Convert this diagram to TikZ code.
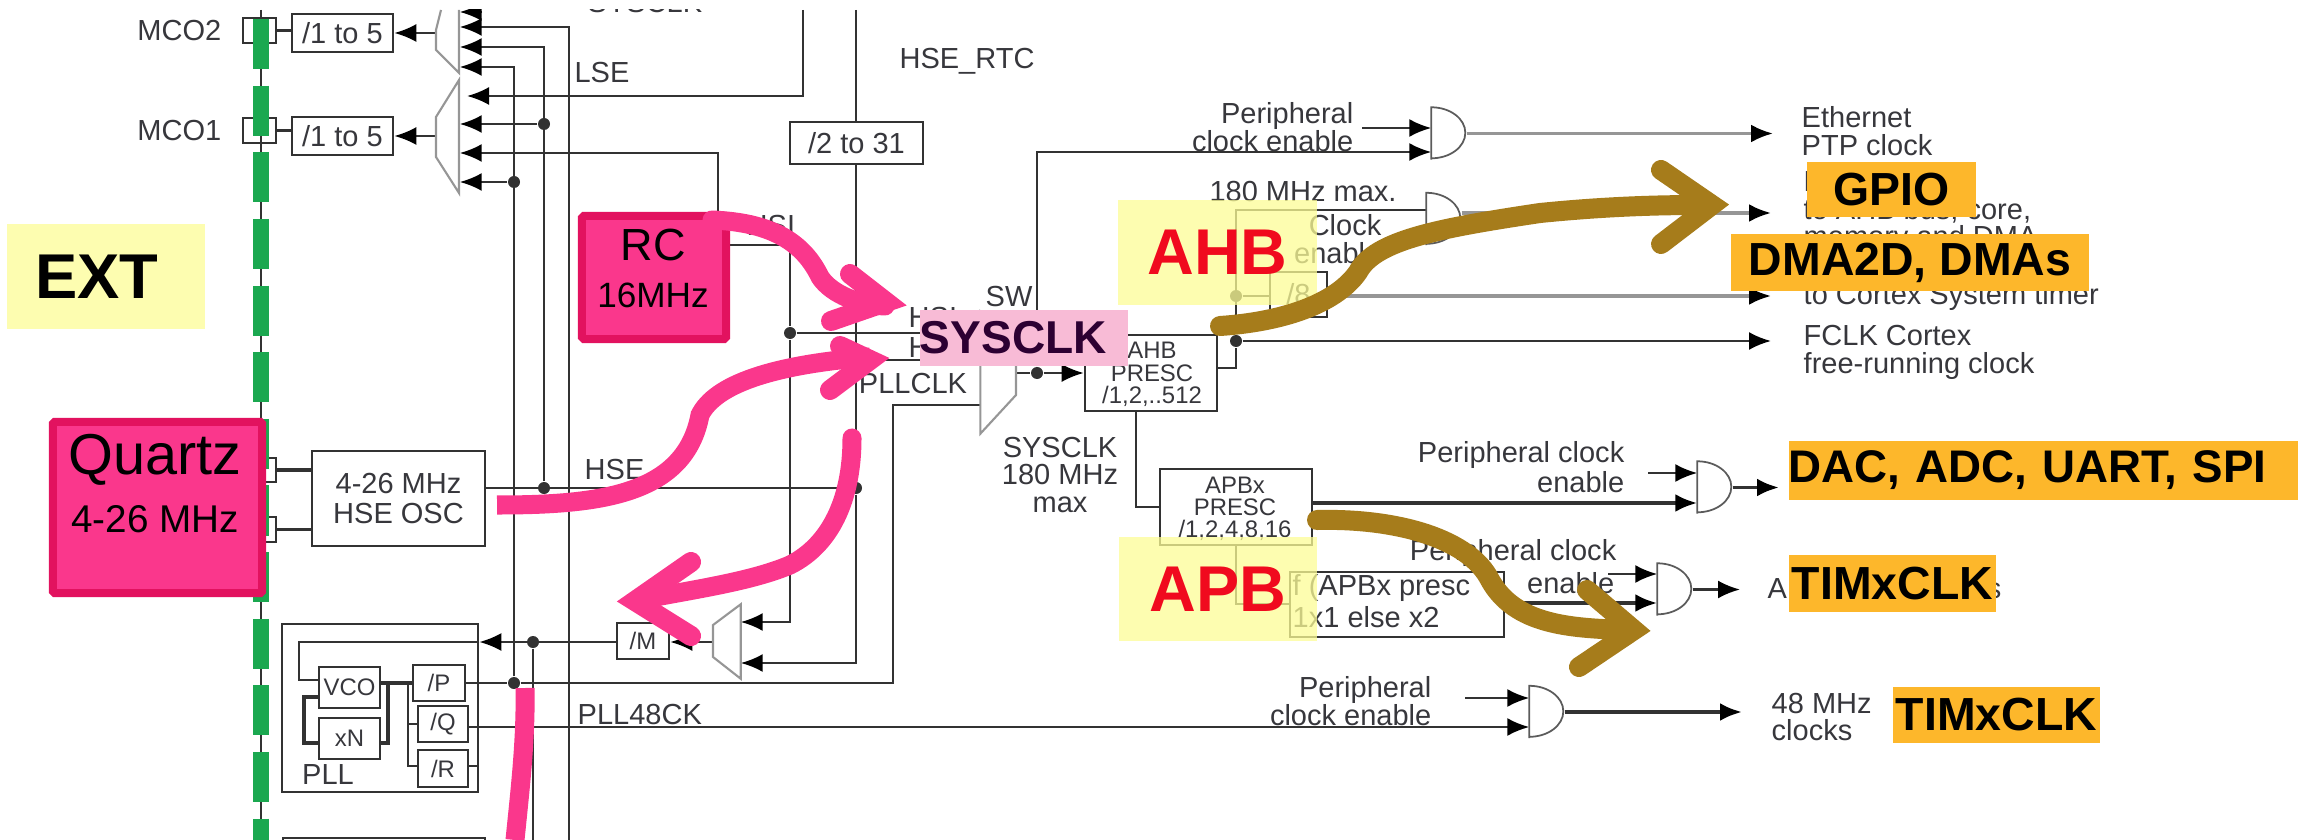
\documentclass[tikz,border=0pt]{standalone}
\usepackage{fontspec}
\setmainfont{Liberation Sans}
\usetikzlibrary{arrows.meta}
\definecolor{WireDark}{RGB}{50,50,50}
\definecolor{WirePale}{RGB}{150,150,150}
\definecolor{TextDark}{RGB}{55,55,60}
\definecolor{BusGreen}{RGB}{27,168,80}
\definecolor{BandYellow}{RGB}{253,253,150}
\definecolor{TagOrange}{RGB}{253,183,43}
\definecolor{SysPink}{RGB}{248,187,214}
\definecolor{SysInk}{RGB}{45,0,50}
\definecolor{SrcPink}{RGB}{250,55,140}
\definecolor{SrcEdge}{RGB}{226,18,95}
\definecolor{PenBrown}{RGB}{166,124,27}
\definecolor{BandRed}{RGB}{240,10,30}
\tikzset{
  sized/.style 2 args={minimum width=#1cm,minimum height=#2cm,inner sep=0pt},
  wire/.style={draw=WireDark,line width=0.7pt},
  wirethick/.style={draw=WireDark,line width=1.1pt},
  wirepale/.style={draw=WirePale,line width=0.9pt},
  muxline/.style={draw=WirePale,line width=0.6pt},
  clkbox/.style={draw=WireDark,line width=0.7pt,fill=white,text=TextDark,font=\fontsize{8.25}{8.3}\selectfont,align=center},
  fine/.style={font=\fontsize{6.8}{6.5}\selectfont},
  note/.style={text=TextDark,inner sep=0pt,font=\fontsize{8.25}{7.9}\selectfont},
  dot/.style={circle,fill=WireDark,inner sep=0pt,minimum size=0.12cm},
  bandbox/.style={fill=BandYellow,fill opacity=0.75,text opacity=1,font=\fontsize{18.4}{20}\selectfont\bfseries,text=BandRed},
  srcbox/.style={fill=SrcPink,draw=SrcEdge,line width=0.08cm,rounded corners=0.5pt},
  srctext/.style={inner sep=0pt,text=black},
  tagbox/.style={fill=TagOrange,text=black,font=\fontsize{13.2}{15}\selectfont\bfseries},
  penpink/.style={draw=SrcPink,line width=0.19cm,line cap=round,line join=miter},
  penhead/.style={draw=SrcPink,line width=0.2cm,line cap=round,line join=miter},
  penbrown/.style={draw=PenBrown,line width=0.2cm,line cap=round,line join=miter},
}
\begin{document}
\begin{tikzpicture}[x=0.01cm,y=-0.01cm,>={Latex[length=2.2mm,width=1.8mm,black]}]
  \useasboundingbox (0,0) rectangle (2304,840);
  \begin{scope}
    \clip (0,10) rectangle (2304,840);
    \node[sized={.23}{.63}] (muxTwo) at (447.5,41.5) {};
    \node[sized={.23}{1.13}] (muxOne) at (447.5,136.5) {};
    \node[sized={.27}{.73}] (muxPll) at (726.5,641.5) {};
    \node[sized={.35}{1.21}] (swMux) at (998.5,372.5) {};
    \foreach \gatename/\gatepos in {gateEth/{1449,133.5},gateHclk/{1444,219},gateApbA/{1715,487.5},gateApbB/{1675,589.5},gateUsb/{1547,712}}
      \node[sized={.34}{.51}] (\gatename) at (\gatepos) {};

    \node[clkbox,sized={.33}{.25}] (padTwo) at (259.5,30.5) {};
    \node[clkbox,sized={.33}{.25}] (padOne) at (259.5,130.5) {};
    \node[clkbox,sized={.33}{.24}] (padHseA) at (259.5,470) {};
    \node[clkbox,sized={.33}{.25}] (padHseB) at (259.5,529.5) {};
    \node[clkbox,sized={1.01}{.38}] (divTwo) at (342.5,33) {/1 to 5};
    \node[clkbox,sized={1.01}{.38}] (divOne) at (342.5,136) {/1 to 5};
    \node[clkbox,sized={1.73}{.95}] (hseOsc) at (398.5,498.5) {4-26 MHz\\HSE OSC};
    \node[clkbox,sized={1.33}{.42}] (divRtc) at (856.5,143) {/2 to 31};
    \node[clkbox,sized={1.32}{.76},fill=none] (ahb) at (1151,373) {};
    \node[clkbox,sized={1.52}{.76}] (apb) at (1236,507) {};
    \node[clkbox,sized={2.14}{.65}] (ifBox) at (1397,604.5) {};
    \node[clkbox,sized={.57}{.45}] (divEight) at (1298.5,294.5) {/8};
    \node[clkbox,sized={.52}{.36},fine] (divM) at (643,641) {/M};
    \node[clkbox,sized={1.96}{1.68},fill=none] (pllBox) at (380,708) {};
    \node[clkbox,sized={.61}{.41},fine] (vco) at (349.5,687.5) {VCO};
    \node[clkbox,sized={.61}{.41},fine] (xN) at (349.5,738.5) {xN};
    \node[clkbox,sized={.52}{.36},fine] (divP) at (439,683) {/P};
    \node[clkbox,sized={.50}{.36},fine] (divQ) at (443,724) {/Q};
    \node[clkbox,sized={.50}{.37},fine] (divR) at (443,768.5) {/R};
    \node[clkbox,sized={2.02}{.84},fill=none] (nextBox) at (384,880) {};

    \node[note,anchor=west] (topLabel) at (587,3) {SYSCLK};
    \node[note] (lseLabel) at (602,73) {LSE};
    \node[note] (rtcLabel) at (967,61) {HSE\_RTC};
    \node[note,anchor=east] (mcoTwoLabel) at (222,31) {MCO2};
    \node[note,anchor=east] (mcoOneLabel) at (222,131) {MCO1};
    \node[note,anchor=west] (hseLabel) at (584,470) {HSE};
    \node[note,anchor=west] (rcOutLabel) at (746,226) {HSI};
    \node[note,anchor=west] (hsiLabel) at (908,318) {HSI};
    \node[note,anchor=west] (hseSwLabel) at (908,348) {HSE};
    \node[note] (swLabel) at (1009,297) {SW};
    \node[note] (pllclkLabel) at (913,384) {PLLCLK};
    \node[note,align=center] (sysLabel) at (1060,475) {SYSCLK\\180 MHz\\max};
    \node[note] (pllLabel) at (328,775) {PLL};
    \node[note,anchor=west] (usbLabel) at (577,715) {PLL48CK};
    \node[note] (maxLabel) at (1303,192) {180 MHz max.};
    \node[note,align=right,anchor=east] (clockLabel) at (1382,239) {Clock\\enable};
    \node[note,fine,text=TextDark] (ahbName) at (1152,350) {AHB};
    \node[note,fine,text=TextDark] (ahbPresc) at (1152,373) {PRESC};
    \node[note,fine,text=TextDark] (ahbDiv) at (1152,396) {/1,2,..512};
    \node[note,fine,text=TextDark] (apbName) at (1235,485) {APBx};
    \node[note,fine,text=TextDark] (apbPresc) at (1235,507) {PRESC};
    \node[note,fine,text=TextDark] (apbDiv) at (1235,530) {/1,2,4,8,16};
    \node[note,anchor=west] (ifTop) at (1292,588) {f (APBx presc};
    \node[note,anchor=west] (ifLow) at (1292,617) {1x1 else x2};
    \node[note,align=right,anchor=east] (ethEnable) at (1354,127) {Peripheral\\clock enable};
    \node[note,anchor=east] (apbEnableA) at (1625,455) {Peripheral clock};
    \node[note,anchor=east] (apbEnableB) at (1625,482) {enable};
    \node[note,anchor=east] (timEnableA) at (1617,553) {Peripheral clock};
    \node[note,anchor=east] (timEnableB) at (1615,583) {enable};
    \node[note,align=right,anchor=east] (usbEnable) at (1432,701) {Peripheral\\clock enable};
    \node[note,align=left,anchor=west] (ethNote) at (1801,131) {Ethernet\\PTP clock};
    \node[note,align=left,anchor=west] (hclkNote) at (1803,212) {HCLK\\to AHB bus, core,\\memory and DMA};
    \node[note,anchor=west] (timerNote) at (1803,297) {to Cortex System timer};
    \node[note,align=left,anchor=west] (fclkNote) at (1803,352) {FCLK Cortex\\free-running clock};
    \node[note,anchor=west] (apbxNote) at (1767,588) {APBx timer clocks};
    \node[note,align=left,anchor=west] (usbNote) at (1771,717) {48 MHz\\clocks};

    \coordinate (ethTip) at ([xshift=-.28cm]ethNote.west);
    \coordinate (hclkTip) at ([xshift=-.32cm]hclkNote.west);
    \coordinate (fclkTip) at ([xshift=-.32cm]fclkNote.west);
    \coordinate (apbxTip) at ([xshift=-.27cm]apbxNote.west);
    \coordinate (usbTip) at ([xshift=-.29cm]usbNote.west);
    \coordinate (dacTip) at (1779,487.5);
    \coordinate (ethStart) at ([xshift=.08cm]ethEnable.east);
    \coordinate (apbStart) at ([xshift=.23cm]apbEnableB.east);
    \coordinate (timStart) at ([xshift=-.07cm]timEnableB.east);
    \coordinate (usbStart) at ([xshift=.33cm]usbEnable.east);
    \coordinate (railSys) at (569,840);
    \coordinate (railFb) at (533,840);
    \coordinate (lseTop) at (803,10);
    \coordinate (lseTip) at (467,96);
    \coordinate (rtcTop) at (856,10);
    \coordinate (pllKnee) at (893,683);
    \coordinate (vcoTap) at (388,683);
    \coordinate (divTap) at (408,683);
    \coordinate (busTop) at (261,10);
    \coordinate (busEnd) at (261,840);
    \coordinate (stubTwo) at (482,12);
    \coordinate (rcTap) at (718,260);
    \coordinate (rcOut) at (730,245);
    \coordinate (fbKnee) at (299,642);

    \node[dot] (jMcoPll) at (514,182) {};
    \node[dot] (jMcoHse) at (544,124) {};
    \node[dot] (jHseOsc) at (544,488) {};
    \node[dot] (jPllFb) at (533,642) {};
    \node[dot] (jPllOut) at (514,683) {};
    \node[dot] (jHsi) at (790,333) {};
    \node[dot] (jHse) at (856,488) {};
    \node[dot] (jSw) at (1037,373) {};
    \node[dot] (jHclk) at (1236,341) {};
    \node[dot] (jDiv) at (1236,296) {};

    \draw[wire] (busTop) -- (busEnd);
    \draw[wire] (divTwo.west |- padTwo) -- (padTwo.east);
    \draw[wire] (divOne.west |- padOne) -- (padOne.east);
    \draw[wirethick] (padHseA.east) -- (hseOsc.west |- padHseA);
    \draw[wire] (padHseB.east) -- (hseOsc.west |- padHseB);
    \draw[wire,->] (muxTwo.west |- divTwo) -- (divTwo.east);
    \draw[wire,->] (muxOne.west |- divOne) -- (divOne.east);
    \draw[wire,->] (stubTwo) -- (muxTwo.east |- stubTwo);
    \draw[wire,->] (railSys) |- (muxTwo.east |- 0,27);
    \draw[wire,->] (jHseOsc) |- (muxTwo.east |- 0,47);
    \draw[wire,->] (jPllOut) |- (muxTwo.east |- 0,67);
    \draw[wire,->] (lseTop) |- (lseTip);
    \draw[wire,->] (jMcoHse) -- (muxOne.east |- jMcoHse);
    \draw[wire,->] (rcTap) |- (muxOne.east |- 0,153);
    \draw[wire,->] (jMcoPll) -- (muxOne.east |- jMcoPll);
    \draw[wire] (hseOsc.east |- jHseOsc) -- (jHse);
    \draw[wire] (rtcTop) -- (divRtc.north -| rtcTop);
    \draw[wire] (divRtc.south -| rtcTop) -- (jHse);
    \draw[wire,->] (jHse) |- (muxPll.east |- 0,663);
    \draw[wire] (rtcTop |- 0,360) -- (swMux.west |- 0,360);
    \draw[wire] (rcOut) -| (jHsi);
    \draw[wire] (jHsi) -- (swMux.west |- jHsi);
    \draw[wire,->] (jHsi) |- (muxPll.east |- 0,622);
    \draw[wire] (divP.east |- jPllOut) -- (jPllOut);
    \draw[wire] (jPllOut) -- (pllKnee) |- (swMux.west |- 0,405);
    \draw[wire,->] (muxPll.west |- jPllFb) -- (divM.east |- jPllFb);
    \draw[wire,->] (divM.west |- jPllFb) -- (pllBox.east |- jPllFb);
    \draw[wire] (jPllFb) -- (railFb);
    \draw[wire] (pllBox.east |- jPllFb) -- (fbKnee) |- (vco.west |- 0,680);
    \draw[wirethick] (vco.east |- divP) -- (divP.west);
    \draw[wirethick] (vcoTap) |- (xN.east |- 0,743);
    \draw[wire] (divTap) |- (divR.west |- 0,766);
    \draw[wire] (divTap |- divQ) -- (divQ.west);
    \draw[wirethick] (vco.west |- 0,697) -- (304,697) -- (304,743) -- (xN.west |- 0,743);
    \draw[wire] (divR.east |- 0,766) -- (pllBox.east |- 0,766);
    \draw[wire,->] (divQ.east |- 0,727) -- (gateUsb.west |- 0,727);
    \draw[wire] (swMux.east |- jSw) -- (jSw);
    \draw[wire,->] (jSw) -- (ahb.west |- jSw);
    \draw[wire,->] (jSw) |- (gateEth.west |- 0,152);
    \draw[wire,->] (ethStart |- 0,128) -- (gateEth.west |- 0,128);
    \draw[wirepale,->] (gateEth.east) -- (ethTip |- gateEth.east);
    \draw[wire] (ahb.east |- 0,368) -| (jHclk);
    \draw[wire] (jHclk) |- (gateHclk.west |- 0,210);
    \draw[wirepale,->] (gateHclk.east |- 0,213) -- (hclkTip |- 0,213);
    \draw[wire] (jDiv) -- (divEight.west |- jDiv);
    \draw[wirepale,->] (divEight.east |- jDiv) -- (hclkTip |- jDiv);
    \draw[wire,->] (jHclk) -- (fclkTip |- jHclk);
    \draw[wire] (ahb.south -| 1136,0) |- (apb.west |- 0,507);
    \draw[wirethick,->] (apb.east |- 0,503) -- (gateApbA.west |- 0,503);
    \draw[wire,->] (apbStart |- 0,473) -- (gateApbA.west |- 0,473);
    \draw[wirethick,->] (gateApbA.east) -- (dacTip);
    \draw[wire] (apb.south) |- (ifBox.west |- 0,604);
    \draw[wirethick,->] (ifBox.east |- 0,603) -- (gateApbB.west |- 0,603);
    \draw[wire,->] (timStart |- 0,574) -- (gateApbB.west |- 0,574);
    \draw[wire,->] (gateApbB.east) -- (apbxTip |- gateApbB.east);
    \draw[wire,->] (usbStart |- 0,698) -- (gateUsb.west |- 0,698);
    \draw[wirethick,->] (gateUsb.east) -- (usbTip |- gateUsb.east);

    \draw[muxline] (441,10) -- (436,30) -- (436,50) -- (459,73) -- (459,10);
    \draw[muxline] (459,80) -- (436,117) -- (436,157) -- (459,193) -- cycle;
    \draw[muxline] (muxPll.north east) -- (muxPll.south east) -- (713,657) -- (713,625) -- cycle;
    \draw[muxline] (swMux.north west) -- (swMux.south west) -- (1016,395) -- (1016,335) -- cycle;
    \foreach \gatename in {gateEth,gateHclk,gateApbA,gateApbB,gateUsb}
      \draw[draw=WireDark!80,line width=0.5pt] (\gatename.south west) -- (\gatename.north west) arc[start angle=90,end angle=-90,x radius=.34cm,y radius=.255cm];
    \draw[draw=BusGreen,line width=0.16cm,dash pattern=on 0.5cm off 0.166cm] (261,19) -- (busEnd);
  \end{scope}

  \node[bandbox,sized={1.98}{1.05}] (extBand) at (106,276.5) {};
  \node[font=\fontsize{18}{20}\selectfont\bfseries,text=black,inner sep=0pt] (extLabel) at (97,277) {EXT};
  \node[bandbox,sized={1.99}{1.05}] (ahbBand) at (1217.5,252.5) {AHB};
  \node[bandbox,sized={1.98}{1.04}] (apbBand) at (1218,589) {APB};

  \node[srcbox,sized={1.44}{1.23}] (rcBox) at (654,277.5) {};
  \node[srctext,font=\fontsize{12.8}{14}\selectfont] (rcLabel) at (653,245) {RC};
  \node[srctext,font=\fontsize{10}{12}\selectfont] (rcFreq) at (653,295) {16MHz};
  \node[srcbox,sized={2.09}{1.71}] (quartzBox) at (157.5,507.5) {};
  \node[srctext,font=\fontsize{16.4}{18}\selectfont] (quartzLabel) at (155,460) {Quartz};
  \node[srctext,font=\fontsize{11}{13}\selectfont] (quartzFreq) at (155,519) {4-26 MHz};

  \draw[penpink] (712,220) .. controls (760,222) and (800,235) .. (820,277) .. controls (832,295) and (860,305) .. (885,306);
  \draw[penhead] (850,274) -- (886,302) -- (831,321);
  \draw[penpink,line cap=butt] (497,505) .. controls (600,505) and (685,495) .. (700,415) .. controls (715,385) and (770,365) .. (870,357);
  \draw[penhead] (840,346) -- (870,360) -- (830,390);
  \draw[penpink] (852,438) .. controls (852,500) and (830,545) .. (790,565) .. controls (750,582) and (690,590) .. (640,600);
  \draw[penhead] (691,562) -- (635,601) -- (691,636);
  \draw[penpink,line cap=butt] (525,688) .. controls (526,740) and (520,790) .. (515,840);

  \draw[penbrown] (1220,326) .. controls (1280,322) and (1335,305) .. (1358,272) .. controls (1375,240) and (1440,228) .. (1540,213) .. controls (1600,207) and (1650,205) .. (1700,205);
  \draw[penbrown] (1661,170) -- (1712,205) -- (1661,244);
  \draw[penbrown] (1317,520) .. controls (1400,518) and (1470,540) .. (1490,580) .. controls (1515,625) and (1570,628) .. (1625,630);
  \draw[penbrown] (1587,590) -- (1634,630) -- (1579,667);

  \node[tagbox,sized={2.08}{.56},text=SysInk,text width=2.08cm,align=left,fill=SysPink,font=\fontsize{13.1}{15}\selectfont\bfseries] (sysclkTag) at (1024,338) {SYSCLK};
  \node[tagbox,sized={1.69}{.55}] (gpioTag) at (1891.5,189.5) {GPIO};
  \node[tagbox,sized={3.58}{.57}] (dmaTag) at (1910,262.5) {DMA2D, DMAs};
  \node[tagbox,sized={5.09}{.58},text width=5.09cm,align=left,font=\fontsize{13}{15}\selectfont\bfseries] (dacTag) at (2043.5,470.5) {DAC, ADC, UART, SPI};
  \node[tagbox,sized={2.07}{.57}] (timTag) at (1892.5,583.5) {TIMxCLK};
  \node[tagbox,sized={2.07}{.56}] (usbTag) at (1996.5,715) {TIMxCLK};
\end{tikzpicture}
\end{document}
